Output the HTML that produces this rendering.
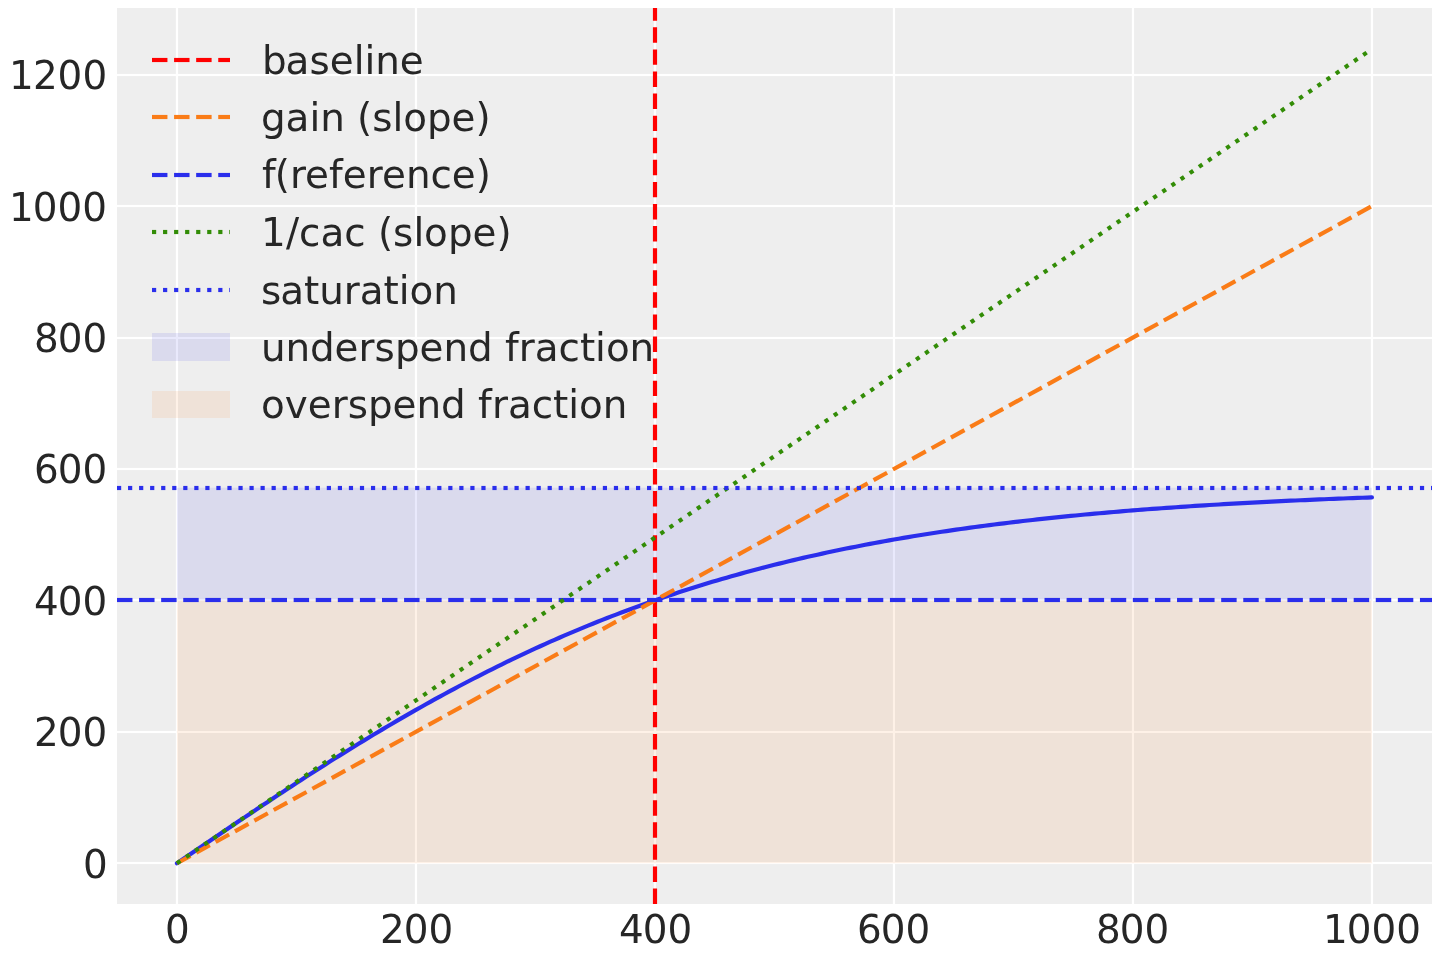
<!DOCTYPE html>
<html lang="en"><head><meta charset="utf-8"><title>tanh saturation baselined</title>
<style>html,body{margin:0;padding:0;background:#fff;overflow:hidden}svg{display:block}text{white-space:pre}</style>
</head><body>
<svg width="1440" height="960" viewBox="0 0 1440 960" role="img" aria-label="tanh saturation baselined chart">
<defs><clipPath id="ax"><rect x="117" y="8" width="1315" height="896"/></clipPath></defs>
<rect width="1440" height="960" fill="#ffffff"/>
<rect x="117" y="8" width="1315" height="896" fill="#eeeeee"/>
<g clip-path="url(#ax)">
<g stroke="#ffffff" stroke-width="2.222" fill="none">
<line x1="177" y1="6" x2="177" y2="906"/>
<line x1="416" y1="6" x2="416" y2="906"/>
<line x1="655" y1="6" x2="655" y2="906"/>
<line x1="894" y1="6" x2="894" y2="906"/>
<line x1="1133" y1="6" x2="1133" y2="906"/>
<line x1="1372" y1="6" x2="1372" y2="906"/>
</g>
<line x1="115" y1="863" x2="1434" y2="863" stroke="#ffffff" stroke-opacity="0.1111" stroke-width="4"/>
<line x1="115" y1="863" x2="1434" y2="863" stroke="#ffffff" stroke-width="2"/>
<line x1="115" y1="732" x2="1434" y2="732" stroke="#ffffff" stroke-opacity="0.1111" stroke-width="4"/>
<line x1="115" y1="732" x2="1434" y2="732" stroke="#ffffff" stroke-width="2"/>
<line x1="115" y1="600" x2="1434" y2="600" stroke="#ffffff" stroke-opacity="0.1111" stroke-width="4"/>
<line x1="115" y1="600" x2="1434" y2="600" stroke="#ffffff" stroke-width="2"/>
<line x1="115" y1="469" x2="1434" y2="469" stroke="#ffffff" stroke-opacity="0.1111" stroke-width="4"/>
<line x1="115" y1="469" x2="1434" y2="469" stroke="#ffffff" stroke-width="2"/>
<line x1="115" y1="338" x2="1434" y2="338" stroke="#ffffff" stroke-opacity="0.1111" stroke-width="4"/>
<line x1="115" y1="338" x2="1434" y2="338" stroke="#ffffff" stroke-width="2"/>
<line x1="115" y1="206" x2="1434" y2="206" stroke="#ffffff" stroke-opacity="0.1111" stroke-width="4"/>
<line x1="115" y1="206" x2="1434" y2="206" stroke="#ffffff" stroke-width="2"/>
<line x1="115" y1="75" x2="1434" y2="75" stroke="#ffffff" stroke-opacity="0.1111" stroke-width="4"/>
<line x1="115" y1="75" x2="1434" y2="75" stroke="#ffffff" stroke-width="2"/>
<rect x="176.931" y="487.729" width="1194.986" height="112.652" fill="rgb(61,61,226)" fill-opacity="0.1137"/>
<rect x="176.931" y="600.380" width="1194.986" height="262.854" fill="rgb(246,132,44)" fill-opacity="0.1137"/>
<polyline points="176.93,863.23 181.71,859.98 186.49,856.72 191.27,853.47 196.05,850.21 200.83,846.96 205.61,843.71 210.39,840.46 215.17,837.22 219.95,833.98 224.73,830.75 229.51,827.52 234.29,824.29 239.07,821.07 243.85,817.86 248.63,814.66 253.41,811.46 258.19,808.27 262.97,805.08 267.75,801.91 272.53,798.74 277.31,795.59 282.09,792.44 286.87,789.31 291.65,786.18 296.43,783.07 301.21,779.97 305.99,776.87 310.77,773.80 315.55,770.73 320.33,767.68 325.11,764.64 329.89,761.61 334.67,758.60 339.45,755.61 344.23,752.62 349.01,749.66 353.79,746.71 358.57,743.77 363.35,740.85 368.13,737.95 372.91,735.06 377.69,732.20 382.47,729.34 387.25,726.51 392.03,723.69 396.81,720.90 401.59,718.12 406.37,715.36 411.15,712.61 415.93,709.89 420.71,707.19 425.49,704.50 430.27,701.84 435.05,699.19 439.83,696.57 444.61,693.96 449.39,691.38 454.17,688.81 458.95,686.27 463.73,683.74 468.51,681.24 473.29,678.76 478.07,676.30 482.85,673.86 487.63,671.44 492.41,669.05 497.19,666.67 501.97,664.32 506.75,661.99 511.53,659.68 516.31,657.39 521.09,655.12 525.87,652.87 530.65,650.65 535.43,648.45 540.21,646.27 544.99,644.11 549.77,641.97 554.55,639.86 559.33,637.76 564.11,635.69 568.89,633.64 573.67,631.61 578.45,629.61 583.23,627.62 588.01,625.66 592.79,623.72 597.57,621.79 602.35,619.89 607.13,618.02 611.91,616.16 616.69,614.32 621.47,612.51 626.25,610.71 631.03,608.94 635.81,607.19 640.59,605.45 645.37,603.74 650.15,602.05 654.92,600.38 659.70,598.73 664.48,597.10 669.26,595.49 674.04,593.90 678.82,592.33 683.60,590.77 688.38,589.24 693.16,587.73 697.94,586.23 702.72,584.76 707.50,583.30 712.28,581.86 717.06,580.45 721.84,579.05 726.62,577.66 731.40,576.30 736.18,574.95 740.96,573.62 745.74,572.31 750.52,571.02 755.30,569.74 760.08,568.49 764.86,567.24 769.64,566.02 774.42,564.81 779.20,563.62 783.98,562.44 788.76,561.29 793.54,560.14 798.32,559.02 803.10,557.90 807.88,556.81 812.66,555.73 817.44,554.66 822.22,553.61 827.00,552.58 831.78,551.56 836.56,550.55 841.34,549.56 846.12,548.58 850.90,547.62 855.68,546.67 860.46,545.74 865.24,544.81 870.02,543.91 874.80,543.01 879.58,542.13 884.36,541.26 889.14,540.40 893.92,539.56 898.70,538.73 903.48,537.91 908.26,537.11 913.04,536.31 917.82,535.53 922.60,534.76 927.38,534.00 932.16,533.25 936.94,532.52 941.72,531.79 946.50,531.08 951.28,530.37 956.06,529.68 960.84,529.00 965.62,528.33 970.40,527.67 975.18,527.02 979.96,526.38 984.74,525.74 989.52,525.12 994.30,524.51 999.08,523.91 1003.86,523.32 1008.64,522.73 1013.42,522.16 1018.20,521.59 1022.98,521.04 1027.76,520.49 1032.54,519.95 1037.32,519.42 1042.10,518.90 1046.88,518.38 1051.66,517.88 1056.44,517.38 1061.22,516.89 1066.00,516.41 1070.78,515.93 1075.56,515.46 1080.34,515.01 1085.12,514.55 1089.90,514.11 1094.68,513.67 1099.46,513.24 1104.24,512.81 1109.02,512.40 1113.80,511.99 1118.58,511.58 1123.36,511.19 1128.14,510.79 1132.92,510.41 1137.70,510.03 1142.48,509.66 1147.26,509.29 1152.04,508.93 1156.82,508.58 1161.60,508.23 1166.38,507.89 1171.16,507.55 1175.94,507.22 1180.72,506.89 1185.50,506.57 1190.28,506.25 1195.06,505.94 1199.84,505.64 1204.62,505.34 1209.40,505.04 1214.18,504.75 1218.96,504.46 1223.74,504.18 1228.52,503.90 1233.30,503.63 1238.08,503.36 1242.86,503.10 1247.64,502.84 1252.42,502.59 1257.20,502.34 1261.98,502.09 1266.76,501.85 1271.54,501.61 1276.32,501.38 1281.10,501.14 1285.88,500.92 1290.66,500.70 1295.44,500.48 1300.22,500.26 1305.00,500.05 1309.78,499.84 1314.56,499.64 1319.34,499.43 1324.12,499.24 1328.90,499.04 1333.68,498.85 1338.46,498.66 1343.24,498.48 1348.02,498.29 1352.80,498.11 1357.58,497.94 1362.36,497.76 1367.14,497.59 1371.92,497.43" fill="none" stroke="#2a2eec" stroke-width="4.167" stroke-linecap="round" stroke-linejoin="round"/>
<line x1="655" y1="904" x2="655" y2="8" stroke="#ff0000" stroke-width="4.167" stroke-dasharray="15.417 6.667"/>
<line x1="176.931" y1="863.234" x2="1371.917" y2="206.099" stroke="#fa7c17" stroke-width="4.167" stroke-dasharray="15.417 6.667"/>
<line x1="117" y1="600" x2="1432" y2="600" stroke="#2a2eec" stroke-opacity="0.0833" stroke-width="6" stroke-dasharray="15.417 6.667"/>
<line x1="117" y1="600" x2="1432" y2="600" stroke="#2a2eec" stroke-width="4" stroke-dasharray="15.417 6.667"/>
<line x1="176.931" y1="863.234" x2="1371.917" y2="49.044" stroke="#328c06" stroke-width="4.167" stroke-dasharray="4.167 6.875"/>
<line x1="117" y1="488" x2="1432" y2="488" stroke="#2a2eec" stroke-opacity="0.0833" stroke-width="6" stroke-dasharray="4.167 6.875"/>
<line x1="117" y1="488" x2="1432" y2="488" stroke="#2a2eec" stroke-width="4" stroke-dasharray="4.167 6.875"/>
</g>
<g font-family="'DejaVu Sans', 'Liberation Sans', sans-serif" font-size="38.889px" fill="#262626">
<text x="165.00" y="943">0</text>
<text x="380.00 403.75 428.50" y="943">200</text>
<text x="619.00 642.75 667.50" y="943">400</text>
<text x="856.88 880.75 905.50" y="943">600</text>
<text x="1096.00 1119.75 1144.50" y="943">800</text>
<text x="1322.88 1346.75 1371.50 1396.25" y="943">1000</text>
<text x="83.00" y="878">0</text>
<text x="34.00 57.75 82.50" y="746">200</text>
<text x="34.00 57.75 82.50" y="615">400</text>
<text x="33.88 57.75 82.50" y="483">600</text>
<text x="34.00 57.75 82.50" y="352">800</text>
<text x="8.88 32.75 57.50 82.25" y="221">1000</text>
<text x="9.00 32.88 57.62 82.38" y="89">1200</text>
<text x="262.00 285.62 309.50 329.75 353.75 364.50 375.25 399.75" y="74">baseline</text>
<text x="261.00 285.62 309.50 320.25 344.75 357.12 372.25 392.50 403.25 427.00 451.62 475.62" y="131">gain (slope)</text>
<text x="262.00 274.75 289.88 305.00 329.00 342.75 366.75 381.88 405.88 430.38 451.75 475.75" y="188">f(reference)</text>
<text x="261.00 285.88 299.00 320.38 344.25 365.62 378.00 393.12 413.38 424.12 447.88 472.50 496.50" y="246">1/cac (slope)</text>
<text x="261.00 280.25 304.12 319.25 343.75 359.75 383.62 398.75 409.50 433.25" y="304">saturation</text>
<text x="261.00 285.50 310.00 334.62 358.62 374.62 394.88 419.50 443.50 468.00 492.62 505.00 518.75 534.75 558.62 580.00 595.12 605.88 629.62" y="361">underspend fraction</text>
<text x="261.00 284.75 307.75 331.75 347.75 368.00 392.62 416.62 441.12 465.75 478.12 491.88 507.88 531.75 553.12 568.25 579.00 602.75" y="418">overspend fraction</text>
</g>
<line x1="152" y1="60" x2="230" y2="60" stroke="#ff0000" stroke-opacity="0.0833" stroke-width="6" stroke-dasharray="15.417 6.667"/>
<line x1="152" y1="60" x2="230" y2="60" stroke="#ff0000" stroke-width="4" stroke-dasharray="15.417 6.667"/>
<line x1="152" y1="117" x2="230" y2="117" stroke="#fa7c17" stroke-opacity="0.0833" stroke-width="6" stroke-dasharray="15.417 6.667"/>
<line x1="152" y1="117" x2="230" y2="117" stroke="#fa7c17" stroke-width="4" stroke-dasharray="15.417 6.667"/>
<line x1="152" y1="175" x2="230" y2="175" stroke="#2a2eec" stroke-opacity="0.0833" stroke-width="6" stroke-dasharray="15.417 6.667"/>
<line x1="152" y1="175" x2="230" y2="175" stroke="#2a2eec" stroke-width="4" stroke-dasharray="15.417 6.667"/>
<line x1="152" y1="232" x2="230" y2="232" stroke="#328c06" stroke-opacity="0.0833" stroke-width="6" stroke-dasharray="4.167 6.875"/>
<line x1="152" y1="232" x2="230" y2="232" stroke="#328c06" stroke-width="4" stroke-dasharray="4.167 6.875"/>
<line x1="152" y1="290" x2="230" y2="290" stroke="#2a2eec" stroke-opacity="0.0833" stroke-width="6" stroke-dasharray="4.167 6.875"/>
<line x1="152" y1="290" x2="230" y2="290" stroke="#2a2eec" stroke-width="4" stroke-dasharray="4.167 6.875"/>
<rect x="152" y="333" width="78" height="28" fill="rgb(61,61,226)" fill-opacity="0.1137"/>
<rect x="152" y="391" width="78" height="27" fill="rgb(246,132,44)" fill-opacity="0.1137"/>
</svg>
</body></html>
